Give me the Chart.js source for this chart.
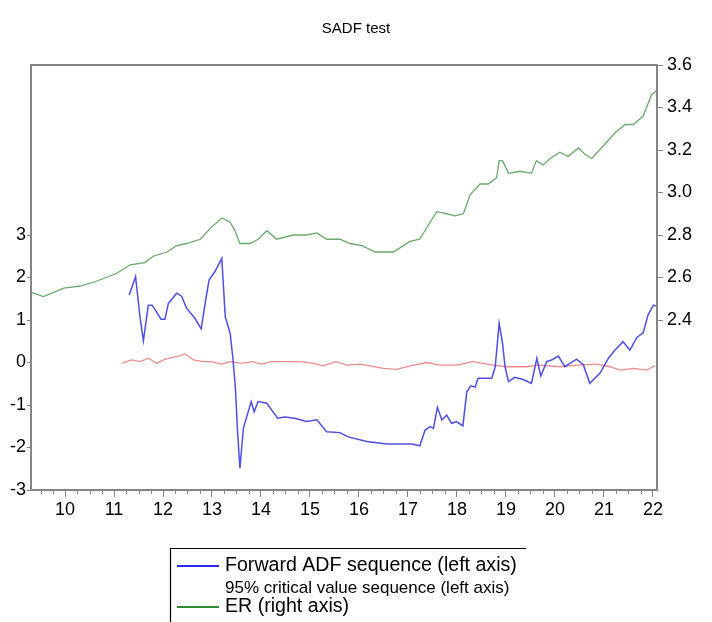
<!DOCTYPE html>
<html>
<head>
<meta charset="utf-8">
<title>SADF test</title>
<script src="https://cdn.jsdelivr.net/npm/chart.js@4.4.0/dist/chart.umd.min.js"></script>
<style>
    html, body { margin: 0; padding: 0; background: #fff; }
    canvas { display: block; }
</style>
</head>
<body>
<canvas id="sadfChart" width="712" height="622"></canvas>
<script>
// Eksen etiketleri
const yearTicks = [2010, 2011, 2012, 2013, 2014, 2015, 2016, 2017, 2018, 2019, 2020, 2021, 2022];
const leftTicks = [-3, -2, -1, 0, 1, 2, 3];
const rightTicks = [2.4, 2.6, 2.8, 3.0, 3.2, 3.4, 3.6];

// ER (sağ eksen)
const erYears = [2009.31, 2009.56, 2009.97, 2010.31, 2010.61, 2011.06, 2011.33, 2011.63, 2011.80, 2012.08,
    2012.28, 2012.48, 2012.76, 2012.96, 2013.20, 2013.37, 2013.47, 2013.57, 2013.78, 2013.94,
    2014.12, 2014.32, 2014.66, 2014.93, 2015.14, 2015.34, 2015.61, 2015.82, 2016.06, 2016.33,
    2016.50, 2016.70, 2017.04, 2017.24, 2017.45, 2017.59, 2017.79, 2017.96, 2018.13, 2018.27,
    2018.47, 2018.64, 2018.81, 2018.86, 2018.93, 2019.05, 2019.29, 2019.52, 2019.62, 2019.76,
    2019.90, 2020.10, 2020.27, 2020.48, 2020.61, 2020.75, 2020.99, 2021.22, 2021.43, 2021.60,
    2021.80, 2021.97, 2022.08];
const erValues = [2.53, 2.51, 2.55, 2.56, 2.58, 2.62, 2.66, 2.67, 2.70, 2.72,
    2.75, 2.76, 2.78, 2.83, 2.88, 2.86, 2.82, 2.76, 2.76, 2.78,
    2.82, 2.78, 2.80, 2.80, 2.81, 2.78, 2.78, 2.76, 2.75, 2.72,
    2.72, 2.72, 2.77, 2.78, 2.86, 2.91, 2.90, 2.89, 2.90, 2.99,
    3.04, 3.04, 3.07, 3.15, 3.15, 3.09, 3.10, 3.09, 3.15, 3.13,
    3.16, 3.19, 3.17, 3.21, 3.18, 3.16, 3.22, 3.28, 3.32, 3.32,
    3.36, 3.46, 3.48];

// Forward ADF (sol eksen)
const adfYears = [2011.31, 2011.44, 2011.53, 2011.60, 2011.70, 2011.78, 2011.96, 2012.04, 2012.11, 2012.28,
    2012.38, 2012.48, 2012.65, 2012.78, 2012.86, 2012.94, 2013.06, 2013.20, 2013.27, 2013.37,
    2013.43, 2013.48, 2013.52, 2013.57, 2013.64, 2013.69, 2013.80, 2013.86, 2013.94, 2014.12,
    2014.22, 2014.34, 2014.49, 2014.69, 2014.93, 2015.14, 2015.34, 2015.61, 2015.78, 2016.16,
    2016.57, 2017.08, 2017.24, 2017.35, 2017.45, 2017.52, 2017.60, 2017.69, 2017.79, 2017.89,
    2017.99, 2018.12, 2018.20, 2018.28, 2018.37, 2018.43, 2018.71, 2018.78, 2018.86, 2018.93,
    2018.98, 2019.05, 2019.18, 2019.35, 2019.52, 2019.63, 2019.71, 2019.83, 2019.93, 2020.07,
    2020.20, 2020.44, 2020.58, 2020.71, 2020.92, 2021.09, 2021.22, 2021.39, 2021.53, 2021.67,
    2021.80, 2021.90, 2022.01, 2022.06];
const adfValues = [1.59, 2.02, 1.08, 0.51, 1.35, 1.35, 1.02, 1.02, 1.39, 1.63,
    1.56, 1.28, 1.04, 0.79, 1.39, 1.94, 2.14, 2.45, 1.08, 0.69,
    0.06, -0.65, -1.59, -2.49, -1.55, -1.35, -0.92, -1.16, -0.92, -0.96,
    -1.12, -1.31, -1.28, -1.31, -1.39, -1.35, -1.63, -1.65, -1.75, -1.86,
    -1.92, -1.92, -1.96, -1.59, -1.51, -1.55, -1.05, -1.35, -1.24, -1.43,
    -1.39, -1.49, -0.69, -0.55, -0.58, -0.37, -0.37, -0.10, 0.92, 0.45,
    -0.10, -0.45, -0.35, -0.40, -0.49, 0.10, -0.32, 0.02, 0.06, 0.15,
    -0.10, 0.08, -0.06, -0.49, -0.25, 0.10, 0.29, 0.49, 0.29, 0.59,
    0.70, 1.12, 1.35, 1.33];

// %95 kritik değer (sol eksen)
const cvYears = [2011.16, 2011.36, 2011.53, 2011.70, 2011.87, 2012.04, 2012.28, 2012.45, 2012.62, 2012.82,
    2012.99, 2013.20, 2013.37, 2013.61, 2013.81, 2014.01, 2014.22, 2014.56, 2014.80, 2015.07,
    2015.27, 2015.54, 2015.75, 2016.02, 2016.50, 2016.77, 2017.04, 2017.38, 2017.65, 2017.99,
    2018.33, 2018.61, 2019.01, 2019.42, 2019.69, 2020.10, 2020.44, 2020.85, 2021.12, 2021.33,
    2021.60, 2021.87, 2022.04];
const cvValues = [-0.02, 0.06, 0.02, 0.10, -0.02, 0.08, 0.14, 0.20, 0.06, 0.02,
    0.02, -0.04, 0.02, -0.02, 0.02, -0.04, 0.02, 0.02, 0.02, -0.02,
    -0.08, 0.02, -0.06, -0.04, -0.14, -0.16, -0.08, 0.00, -0.06, -0.06,
    0.02, -0.04, -0.10, -0.10, -0.06, -0.10, -0.06, -0.04, -0.10, -0.18,
    -0.14, -0.18, -0.08];

function toPoints(xs, ys) {
    return xs.map((x, i) => ({ x: x, y: ys[i] }));
}

Chart.defaults.font.family = "'Liberation Sans', Arial, sans-serif";
Chart.defaults.color = '#000';

const axisGray = '#858585';

// Çerçeve ve ara (çeyrek) çentikler
const framePlugin = {
    id: 'frame',
    afterDatasetsDraw(chart) {
        const a = chart.chartArea;
        const ctx = chart.ctx;
        const xs = chart.scales.x;
        ctx.save();
        ctx.strokeStyle = axisGray;
        ctx.lineWidth = 2;
        ctx.strokeRect(a.left, a.top, a.right - a.left, a.bottom - a.top);
        ctx.lineWidth = 1;
        for (let q = 2009.5; q < 2022.1; q += 0.25) {
            if (Math.abs(q - Math.round(q)) < 0.01) continue;
            const px = Math.round(xs.getPixelForValue(q)) + 0.5;
            ctx.beginPath();
            ctx.moveTo(px, a.bottom);
            ctx.lineTo(px, a.bottom + 4);
            ctx.stroke();
        }
        ctx.restore();
    }
};

// EViews tarzı lejant kutusu
const legendBoxPlugin = {
    id: 'legendBox',
    afterDraw(chart) {
        const ctx = chart.ctx;
        ctx.save();
        ctx.strokeStyle = '#000';
        ctx.lineWidth = 1.2;
        ctx.beginPath();
        ctx.moveTo(170.5, 622);
        ctx.lineTo(170.5, 548.5);
        ctx.lineTo(526, 548.5);
        ctx.stroke();

        ctx.lineWidth = 2;
        ctx.strokeStyle = '#2b2bf0';
        ctx.beginPath();
        ctx.moveTo(177, 566);
        ctx.lineTo(219, 566);
        ctx.stroke();
        ctx.strokeStyle = '#2e8b2e';
        ctx.beginPath();
        ctx.moveTo(177, 607);
        ctx.lineTo(219, 607);
        ctx.stroke();

        ctx.fillStyle = '#000';
        ctx.textBaseline = 'middle';
        ctx.font = "19.6px 'Liberation Sans', Arial, sans-serif";
        ctx.fillText('Forward ADF sequence (left axis)', 225, 566);
        ctx.fillText('ER (right axis)', 225, 607);
        ctx.font = "17px 'Liberation Sans', Arial, sans-serif";
        ctx.fillText('95% critical value sequence (left axis)', 225, 588);
        ctx.restore();
    }
};

const chart = new Chart(document.getElementById('sadfChart'), {
    type: 'line',
    data: {
        datasets: [{
            label: 'Forward ADF sequence (left axis)',
            data: toPoints(adfYears, adfValues),
            yAxisID: 'yL',
            borderColor: 'rgba(60, 60, 225, 0.9)',
            borderWidth: 1.5
        }, {
            label: '95% critical value sequence (left axis)',
            data: toPoints(cvYears, cvValues),
            yAxisID: 'yL',
            borderColor: 'rgba(235, 120, 120, 0.85)',
            borderWidth: 1.3
        }, {
            label: 'ER (right axis)',
            data: toPoints(erYears, erValues),
            yAxisID: 'yR',
            borderColor: 'rgba(80, 155, 80, 0.85)',
            borderWidth: 1.3
        }]
    },
    options: {
        responsive: false,
        devicePixelRatio: 1,
        animation: false,
        elements: {
            point: { radius: 0 },
            line: { tension: 0 }
        },
        layout: {
            padding: { left: 0, right: 0, top: 0, bottom: 92 }
        },
        plugins: {
            legend: { display: false },
            tooltip: { enabled: false },
            title: {
                display: true,
                text: 'SADF test',
                color: '#000',
                font: { size: 15, weight: 'normal' },
                padding: { top: 20, bottom: 27 }
            }
        },
        scales: {
            x: {
                type: 'linear',
                position: 'bottom',
                min: 2009.306,
                max: 2022.082,
                afterBuildTicks: function(scale) {
                    scale.ticks = yearTicks.map(v => ({ value: v }));
                },
                afterFit: function(scale) { scale.height = 40; },
                ticks: {
                    autoSkip: false,
                    maxRotation: 0,
                    padding: 2,
                    font: { size: 18 },
                    callback: function(value) { return String(value % 100); }
                },
                grid: { drawOnChartArea: false, tickLength: 7, color: axisGray },
                border: { display: false }
            },
            yL: {
                type: 'linear',
                position: 'left',
                min: -3,
                max: 7,
                afterBuildTicks: function(scale) {
                    scale.ticks = leftTicks.map(v => ({ value: v }));
                },
                afterFit: function(scale) { scale.width = 31; },
                ticks: {
                    padding: 1,
                    font: { size: 18 },
                    callback: function(value) { return String(value); }
                },
                grid: { drawOnChartArea: false, tickLength: 4, color: axisGray },
                border: { display: false }
            },
            yR: {
                type: 'linear',
                position: 'right',
                min: 1.6,
                max: 3.6,
                afterBuildTicks: function(scale) {
                    scale.ticks = rightTicks.map(v => ({ value: v }));
                },
                afterFit: function(scale) { scale.width = 55; },
                ticks: {
                    padding: 4,
                    font: { size: 18 },
                    callback: function(value) { return value.toFixed(1); }
                },
                grid: { drawOnChartArea: false, tickLength: 6, color: axisGray },
                border: { display: false }
            }
        }
    },
    plugins: [framePlugin, legendBoxPlugin]
});
</script>
</body>
</html>
